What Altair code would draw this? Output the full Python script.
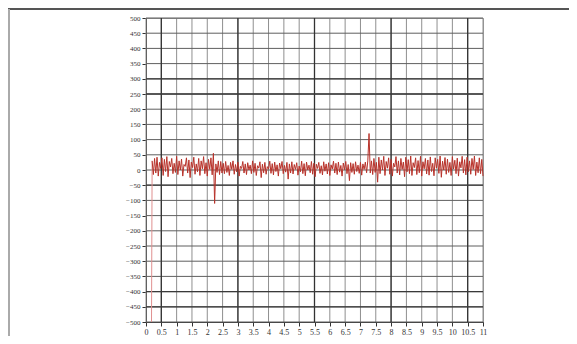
import altair as alt
import pandas as pd

# ---- data ----
x_start = 0.2
x_step = 0.04
signal = [
    # 0.2 .. 2.48
    30, -15, 38, -10, 42, -20, 25, 5, 40, -18,
    35, -5, 44, -22, 28, 10, 38, -12, 22, -8,
    45, -15, 30, 0, 36, -20, 18, 12, 40, -10,
    33, -25, 26, 8, 42, -14, 20, -6, 38, -18,
    30, 4, 44, -12, 24, -20, 35, 2, 40, -16,
    55, -110, 20, -8, 30, -15, 28, -10,
    # 2.52 .. 7.24
    22, -12, 28, -8, 15, -18, 25, 2, 30, -14,
    18, -6, 26, -20, 12, 5, 28, -10, 20, -15,
    24, 0, 16, -12, 30, -8, 22, -18, 14, 6,
    27, -25, 19, -9, 25, -14, 11, 3, 29, -11,
    21, -16, 26, -5, 17, -20, 23, 4, 28, -12,
    15, -7, 25, -30, 20, -10, 27, -13, 18, 2,
    24, -17, 13, -6, 29, -12, 21, -19, 26, 0,
    16, -9, 28, -14, 22, -22, 19, 5, 25, -11,
    14, -16, 27, -4, 20, -13, 24, -18, 17, 3,
    29, -10, 22, -15, 26, -7, 15, -20, 23, 1,
    28, -12, 18, -35, 24, -8, 21, -14, 27, -5,
    16, -11, 25, -17, 20, 2, 26, -9, 30,
    # spike
    120,
    # 7.32 .. 11
    -10, 30, -15, 38, -8, 25, -40, 42, -12, 33,
    0, 45, -18, 28, 6, 40, -14, 35, -20, 22,
    10, 44, -10, 30, -16, 38, 2, 26, -22, 42,
    -6, 34, -12, 46, -18, 24, 8, 40, -15, 31,
    -9, 45, -20, 27, 4, 38, -13, 33, -17, 43,
    -5, 22, -19, 40, 6, 35, -11, 46, -24, 29,
    0, 41, -14, 36, -8, 25, -18, 44, 3, 32,
    -12, 39, -20, 27, 7, 45, -10, 34, -16, 42,
    -6, 30, -14, 38, 2, 46, -18, 26, -9, 40,
    -12, 35, -20,
]
lead_x = [0.18, 0.2]
lead_y = [-500, 30]

x_ticks = [i * 0.5 for i in range(23)]
y_ticks = list(range(-500, 501, 50))
dark_x = [0.5, 3, 5.5, 8, 10.5]
dark_y = [300, 250, -50, -400, -450]

sig_df = pd.DataFrame({"t": [x_start + i * x_step for i in range(len(signal))], "v": signal})
lead_df = pd.DataFrame({"t": lead_x, "v": lead_y})
vx_df = pd.DataFrame({"t": x_ticks})
hy_df = pd.DataFrame({"v": y_ticks})
dx_df = pd.DataFrame({"t": dark_x})
dy_df = pd.DataFrame({"v": dark_y})

xs = alt.Scale(domain=[0, 11], nice=False, zero=False)
ys = alt.Scale(domain=[-500, 500], nice=False, zero=False)

x_axis = alt.Axis(values=x_ticks, format="~g", grid=False, tickSize=4,
                  labelFontSize=8, labelFont="Liberation Serif",
                  labelColor="#333", tickColor="#333", domainColor="#333",
                  labelPadding=2, labelFlush=False, labelOverlap=False)
y_axis = alt.Axis(values=y_ticks, format="d", grid=False, tickSize=4,
                  labelFontSize=7, labelFont="Liberation Serif",
                  labelColor="#333", tickColor="#333", domainColor="#333",
                  labelPadding=2, labelOverlap=False)

X = alt.X("t:Q", scale=xs, title=None, axis=x_axis)
Y = alt.Y("v:Q", scale=ys, title=None, axis=y_axis)

vgrid = alt.Chart(vx_df).mark_rule(color="#8f8f8f", strokeWidth=1).encode(x=X)
hgrid = alt.Chart(hy_df).mark_rule(color="#5f5f5f", strokeWidth=1).encode(y=Y)
vdark = alt.Chart(dx_df).mark_rule(color="#333333", strokeWidth=1.3).encode(x=X)
hdark = alt.Chart(dy_df).mark_rule(color="#3a3a3a", strokeWidth=1.3).encode(y=Y)

lead = alt.Chart(lead_df).mark_line(color="#e09090", strokeWidth=1).encode(x=X, y=Y)
line = alt.Chart(sig_df).mark_line(color="#b8322a", strokeWidth=1).encode(x=X, y=Y)

frame_top = alt.Chart(sig_df).mark_rule(color="#555", strokeWidth=2).encode(
    x=alt.value(-138), x2=alt.value(430), y=alt.value(-9))
frame_left = alt.Chart(sig_df).mark_rule(color="#aaa", strokeWidth=2).encode(
    x=alt.value(-137), y=alt.value(-9), y2=alt.value(330))

chart = alt.layer(vgrid, hgrid, vdark, hdark, lead, line, frame_top, frame_left).properties(
    width=337, height=304,
    autosize=alt.AutoSizeParams(type="none"),
    padding={"left": 138, "top": 10, "right": 86, "bottom": 14},
    background="white",
).configure_view(stroke="#999", strokeWidth=1)

chart.save("out.html", embed_options={"renderer": "svg", "actions": False})
